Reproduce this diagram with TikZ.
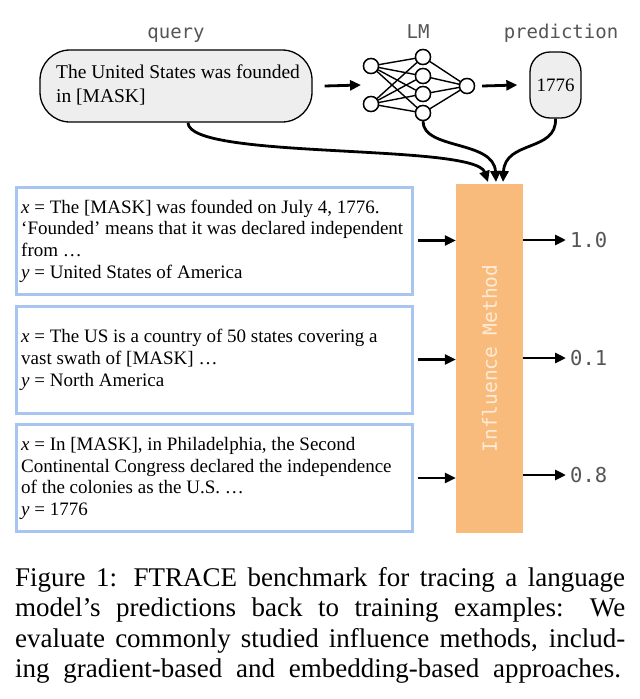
\documentclass[tikz,border=0pt]{standalone}
\usepackage{fontspec}
\setmainfont{Liberation Serif}
\setmonofont{DejaVu Sans Mono}
\usetikzlibrary{arrows.meta,calc}
\definecolor{qfill}{HTML}{EEEEEE}
\definecolor{bborder}{HTML}{A7C5F0}
\definecolor{orng}{HTML}{F9BB7B}
\definecolor{orngtxt}{HTML}{FDEBD7}
\definecolor{lblgray}{HTML}{555555}
\begin{document}
\begin{tikzpicture}[x=1pt,y=-1pt,
  lbl/.style={font=\fontsize{19}{20}\selectfont\ttfamily, text=lblgray, inner sep=0},
  val/.style={font=\fontsize{20.5}{22}\selectfont\ttfamily, text=lblgray, inner sep=0, anchor=west},
  exbox/.style={draw=bborder, line width=3pt, minimum width=396pt, minimum height=107pt, inner sep=0},
  extext/.style={font=\fontsize{19}{21.7}\selectfont, align=left, anchor=west, inner sep=0},
  conn/.style={line width=2.8pt, -{Triangle[length=11pt,width=10pt]}},
  neuron/.style={circle, draw, line width=1.4pt, fill=white, minimum size=15pt, inner sep=0},
  nnedge/.style={line width=1.4pt},
  capline/.style={font=\fontsize{27}{30}\selectfont, anchor=base west, inner sep=0},
]
\useasboundingbox (0,0) rectangle (640,699);

% top labels
\node[lbl, anchor=base] (lq) at (176,38) {query};
\node[lbl, anchor=base] (llm) at (418,38) {LM};
\node[lbl, anchor=base] (lp) at (561,38) {prediction};

% query
\node[draw, line width=1.3pt, fill=qfill, rounded corners=30pt, minimum width=272pt, minimum height=72pt] (q) at (176,86) {};
\node[anchor=west, align=left, font=\fontsize{19.5}{23.5}\selectfont, inner sep=0] (qt) at (56,85) {The United States was founded\\in [MASK]};

% neural net
\node[neuron] (i1) at (371,66) {};
\node[neuron] (i2) at (371,104) {};
\node[neuron] (h1) at (423,57) {};
\node[neuron] (h2) at (423,76) {};
\node[neuron] (h3) at (423,94) {};
\node[neuron] (h4) at (423,113) {};
\node[neuron] (o) at (467,86) {};
\foreach \a in {i1,i2}{\foreach \b in {h1,h2,h3,h4}{\draw[nnedge] (\a) -- (\b);}}
\foreach \b in {h1,h2,h3,h4}{\draw[nnedge] (\b) -- (o);}
\foreach \n in {i1,i2,h1,h2,h3,h4,o}{\node[neuron] at (\n) {};}
\coordinate (nnin) at (361,85);

% prediction
\node[draw, line width=1.3pt, fill=qfill, rounded corners=20pt, minimum width=51pt, minimum height=66pt, font=\fontsize{19}{20}\selectfont] (p) at (555.5,85) {1776};

\draw[conn] ([xshift=12pt]q.east) -- (nnin);
\draw[conn] ([xshift=7pt]o.east) -- ([xshift=-12pt]p.west);

% influence method
\node[fill=orng, minimum width=67pt, minimum height=349pt, inner sep=0] (im) at (489.5,358.5) {};
\node[rotate=90, font=\fontsize{19.5}{20}\selectfont\ttfamily, text=orngtxt, inner sep=0] (imt) at (489.5,358.5) {Influence Method};

\coordinate (t1) at (488,182);
\coordinate (t2) at (496,182);
\coordinate (t3) at (503,182);
\draw[conn] ([xshift=12pt]q.south) .. controls (188,160) and (475,143) .. (t1);
\draw[conn] (h4.south) .. controls (423,150) and (494,140) .. (t2);
\draw[conn] (p.south) .. controls (557,152) and (505,140) .. (t3);

% examples
\node[exbox] (b1) at (214,240.5) {};
\node[exbox] (b2) at (214,359.5) {};
\node[exbox] (b3) at (214,478) {};
\node[extext] (e1) at (21,241) {\textit{x} = The [MASK] was founded on July 4, 1776.\\`Founded' means that it was declared independent\\from …\\\textit{y} = United States of America};
\node[extext] (e2) at (21,360) {\textit{x} = The US is a country of 50 states covering a\\vast swath of [MASK] …\\\textit{y} = North America};
\node[extext] (e3) at (21,478.5) {\textit{x} = In [MASK], in Philadelphia, the Second\\Continental Congress declared the independence\\of the colonies as the U.S. …\\\textit{y} = 1776};

\node[val] (v1) at (570,240) {1.0};
\node[val] (v2) at (570,358) {0.1};
\node[val] (v3) at (570,475) {0.8};

\draw[conn] ([xshift=4pt]b1.east) -- (b1.east -| im.west);
\draw[conn] ([xshift=4pt]b2.east) -- (b2.east -| im.west);
\draw[conn] ([xshift=4pt]b3.east) -- (b3.east -| im.west);
\draw[conn] (v1.west -| im.east) -- ([xshift=-4pt]v1.west);
\draw[conn] (v2.west -| im.east) -- ([xshift=-4pt]v2.west);
\draw[conn] (v3.west -| im.east) -- ([xshift=-4pt]v3.west);

% caption
\node[capline] (c1) at (15,586) {\makebox[610pt][s]{Figure 1: FTRACE benchmark for tracing a language}};
\node[capline] (c2) at (15,616.5) {\makebox[610pt][s]{model’s predictions back to training examples: We}};
\node[capline] (c3) at (15,647) {\makebox[610pt][s]{evaluate commonly studied influence methods, includ-}};
\node[capline] (c4) at (15,677.5) {\makebox[606pt][s]{ing gradient-based and embedding-based approaches.}};
\end{tikzpicture}
\end{document}
